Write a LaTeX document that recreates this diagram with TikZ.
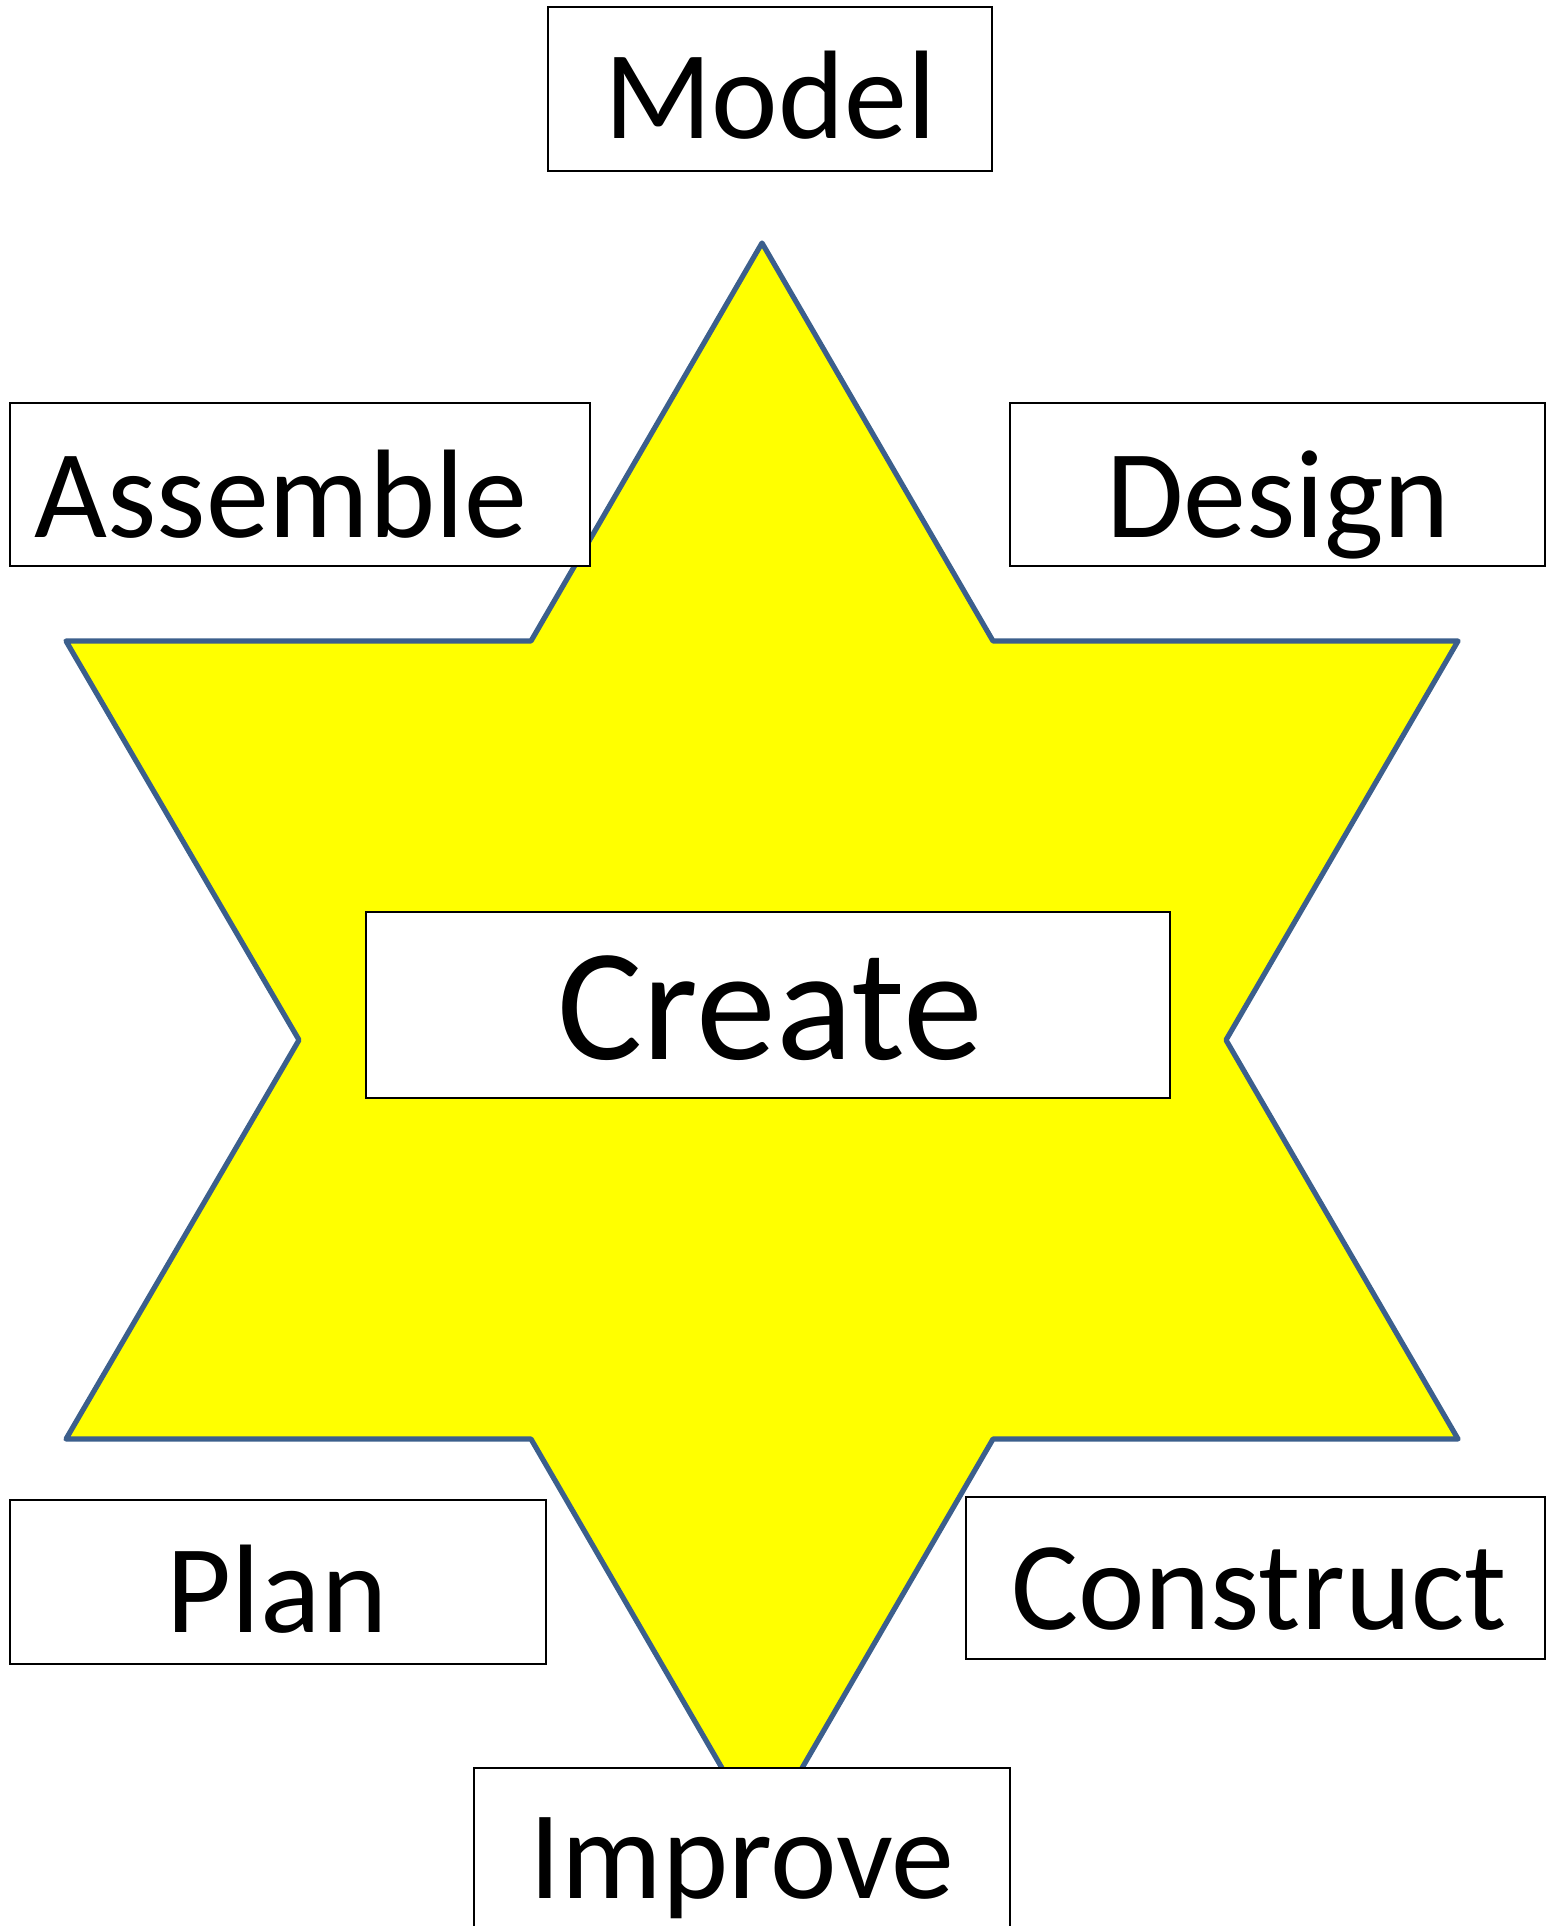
\documentclass[tikz,border=0pt]{standalone}
\usepackage{fontspec}
\setmainfont{Carlito}
\definecolor{starline}{RGB}{60,95,140}
\definecolor{staryellow}{RGB}{255,255,0}
\begin{document}
\begin{tikzpicture}[x=0.5pt,y=-0.5pt,
  box/.style={draw=black,line width=1.2pt,fill=white,inner sep=0pt},
  lbl/.style={inner sep=0pt,anchor=base,font=\fontsize{63}{70}\selectfont},
  biglbl/.style={inner sep=0pt,anchor=base,font=\fontsize{80}{90}\selectfont}]
\useasboundingbox (0,0) rectangle (1547,1926);
\clip (0,0) rectangle (1547,1926);
% star
\draw[starline,line width=2.6pt,line join=round,fill=staryellow]
  (762,243) -- (993,641) -- (1458,641) -- (1226,1040) -- (1458,1439) -- (993,1439)
  -- (762,1837) -- (531,1439) -- (66,1439) -- (299,1040) -- (66,641) -- (531,641) -- cycle;
% boxes (sizes in pt = half the pixel sizes)
\node[box,minimum width=222pt,minimum height=82pt] (model) at (770,89) {};
\node[box,minimum width=290pt,minimum height=81.5pt] (assemble) at (300,484.5) {};
\node[box,minimum width=267.5pt,minimum height=81.5pt] (design) at (1277.5,484.5) {};
\node[box,minimum width=402pt,minimum height=93pt] (create) at (768,1005) {};
\node[box,minimum width=268pt,minimum height=82pt] (plan) at (278,1582) {};
\node[box,minimum width=289.5pt,minimum height=81pt] (construct) at (1255.5,1578) {};
\node[box,minimum width=268pt,minimum height=100pt] (improve) at (742,1868) {};
% labels
\node[lbl] (modelt) at (770,139) {Model};
\node[lbl] (assemblet) at (281,537) {Assemble};
\node[lbl] (designt) at (1278,537) {Design};
\node[biglbl] (createt) at (770,1059) {Create};
\node[lbl] (plant) at (277,1632) {Plan};
\node[lbl] (constructt) at (1259,1629) {Construct};
\node[lbl] (improvet) at (742,1898) {Improve};
\end{tikzpicture}
\end{document}
